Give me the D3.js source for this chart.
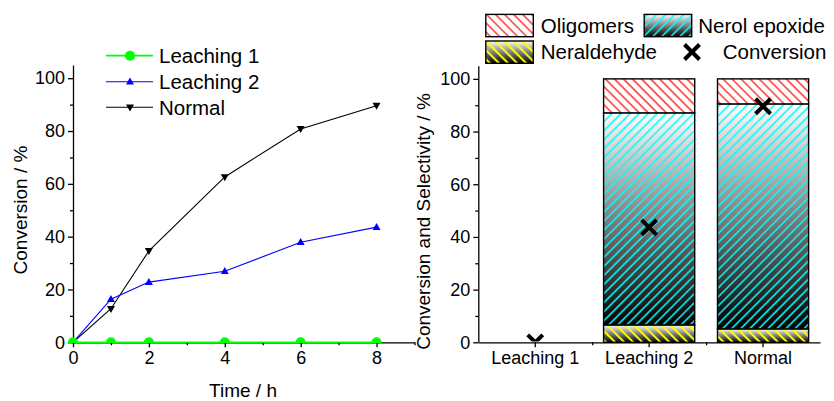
<!DOCTYPE html>
<html>
<head>
<meta charset="utf-8">
<script src="https://cdn.jsdelivr.net/npm/d3@7"></script>
<style>
	body { margin: 0; background: #fff; }
	svg { display: block; font-family: "Liberation Sans", Arial, sans-serif; }
	.tick text { font-size: 18px; fill: #000; font-family: "Liberation Sans", Arial, sans-serif; }
	.domain, .tick line { stroke: #000; stroke-width: 1.3; }
</style>
</head>
<body>
<svg id="chart" width="834" height="401"></svg>
<script>
// left panel: conversion vs time
var times = [0, 1, 2, 4, 6, 8];
var leaching1 = [0, 0, 0, 0, 0, 0];
var leaching2 = [0, 16.3, 22.8, 26.9, 37.9, 43.6];
var normal = [0, 12.7, 34.6, 62.6, 80.8, 89.6];
var timeTicks = [0, 2, 4, 6, 8];
var convTicks = [0, 20, 40, 60, 80, 100];

// right panel: selectivity bars
var categories = ['Leaching 1', 'Leaching 2', 'Normal'];
var neraldehyde = [0, 6.6, 5.1];
var nerolEpoxide = [0, 80.5, 85.4];
var oligomers = [0, 12.9, 9.5];
var conversion = [0, 43.6, 89.6];

var svg = d3.select('#chart');
var defs = svg.append('defs');

// gradient white -> black, top to bottom
var grad = defs.append('linearGradient').attr('id', 'wb')
	.attr('x1', 0).attr('y1', 0).attr('x2', 0).attr('y2', 1);
grad.append('stop').attr('offset', '0%').attr('stop-color', '#fff');
grad.append('stop').attr('offset', '100%').attr('stop-color', '#000');

// hatch patterns
function hatch(id, color, angle, width) {
	var p = defs.append('pattern').attr('id', id)
		.attr('patternUnits', 'userSpaceOnUse')
		.attr('width', 6.4).attr('height', 10)
		.attr('patternTransform', 'rotate(' + angle + ')');
	p.append('line').attr('x1', 1).attr('y1', 0).attr('x2', 1).attr('y2', 10)
		.attr('stroke', color).attr('stroke-width', width);
}
hatch('hRed', '#ff0000', -45, 1.2);
hatch('hCyan', '#00ffff', 45, 1.5);
hatch('hYellow', '#ffff00', -45, 2);

var segStyles = {
	oligomers: {bg: '#fff', hatch: 'url(#hRed)'},
	nerol: {bg: 'url(#wb)', hatch: 'url(#hCyan)'},
	neral: {bg: 'url(#wb)', hatch: 'url(#hYellow)'}
};

// ---------- left chart ----------
var xL = d3.scaleLinear().domain([0, 9]).range([73, 414.5]);
var yL = d3.scaleLinear().domain([0, 105]).range([342.3, 65]);

var gL = svg.append('g');

// minor ticks
gL.append('g').attr('transform', 'translate(0,' + yL(0) + ')')
	.call(d3.axisBottom(xL).tickValues([1, 3, 5, 7, 9]).tickSize(3).tickFormat(''))
	.call(function(g) { g.select('.domain').remove(); });
gL.append('g').attr('transform', 'translate(' + xL(0) + ',0)')
	.call(d3.axisLeft(yL).tickValues([10, 30, 50, 70, 90]).tickSize(3).tickFormat(''))
	.call(function(g) { g.select('.domain').remove(); });

gL.append('g').attr('transform', 'translate(0,' + yL(0) + ')')
	.call(d3.axisBottom(xL).tickValues(timeTicks).tickSize(5).tickPadding(4).tickSizeOuter(0));
gL.append('g').attr('transform', 'translate(' + xL(0) + ',0)')
	.call(d3.axisLeft(yL).tickValues(convTicks).tickSize(5).tickPadding(3).tickSizeOuter(0));

var series = [
	{name: 'Leaching 1', values: leaching1, color: '#00ff00', marker: 'circle'},
	{name: 'Leaching 2', values: leaching2, color: '#0000ff', marker: 'up'},
	{name: 'Normal', values: normal, color: '#000000', marker: 'down'}
];

function markerPath(type) {
	if (type === 'circle') return d3.symbol().type(d3.symbolCircle).size(80)();
	if (type === 'up') return 'M0,-4.2L4,2.8L-4,2.8Z';
	return 'M0,4.2L4,-2.8L-4,-2.8Z';
}

var line = d3.line()
	.x(function(d, i) { return xL(times[i]); })
	.y(function(d) { return yL(d); });

// clip markers at the x-axis
defs.append('clipPath').attr('id', 'clipL').append('rect')
	.attr('x', 0).attr('y', 0).attr('width', 834).attr('height', yL(0) + 0.6);

var plotL = gL.append('g').attr('clip-path', 'url(#clipL)');
// black first, then blue, green on top
series.slice().reverse().forEach(function(s) {
	plotL.append('path').datum(s.values)
		.attr('d', line)
		.attr('fill', 'none')
		.attr('stroke', s.color)
		.attr('stroke-width', s.marker === 'circle' ? 1.8 : 1.1);
	plotL.selectAll(null).data(s.values).join('path')
		.attr('transform', function(d, i) { return 'translate(' + xL(times[i]) + ',' + yL(d) + ')'; })
		.attr('d', markerPath(s.marker))
		.attr('fill', s.color);
});

// left legend
var legL = gL.append('g');
var legRows = [55.7, 81.7, 107.3];
series.forEach(function(s, i) {
	var y = legRows[i];
	legL.append('line').attr('x1', 106).attr('x2', 153).attr('y1', y).attr('y2', y)
		.attr('stroke', s.color).attr('stroke-width', s.marker === 'circle' ? 1.8 : 1.1);
	legL.append('path').attr('transform', 'translate(130,' + y + ')')
		.attr('d', markerPath(s.marker)).attr('fill', s.color);
	legL.append('text').attr('x', 159).attr('y', y + 7.3)
		.style('font-size', '20.5px').text(s.name);
});

gL.append('text').attr('x', 243).attr('y', 397).attr('text-anchor', 'middle')
	.style('font-size', '19px').text('Time / h');
gL.append('text').attr('transform', 'translate(26.5,210) rotate(-90)').attr('text-anchor', 'middle')
	.style('font-size', '19px').text('Conversion / %');

// ---------- right chart ----------
var xR = d3.scaleBand().domain(categories).range([478.3, 820]).paddingInner(0.2).paddingOuter(0.1);
var yR = d3.scaleLinear().domain([0, 105]).range([342.3, 65.7]);

var gR = svg.append('g');

// stacked segments
var stacks = categories.map(function(c, i) {
	var b0 = 0, b1 = neraldehyde[i], b2 = b1 + nerolEpoxide[i], b3 = b2 + oligomers[i];
	return [
		{cat: c, y0: b0, y1: b1, style: segStyles.neral},
		{cat: c, y0: b1, y1: b2, style: segStyles.nerol},
		{cat: c, y0: b2, y1: b3, style: segStyles.oligomers}
	];
});
var segs = [].concat.apply([], stacks).filter(function(d) { return d.y1 > d.y0; });

var barG = gR.append('g');
segs.forEach(function(d) {
	var x = xR(d.cat), w = xR.bandwidth(), y = yR(d.y1), h = yR(d.y0) - yR(d.y1);
	barG.append('rect').attr('x', x).attr('y', y).attr('width', w).attr('height', h).attr('fill', d.style.bg);
	barG.append('rect').attr('x', x).attr('y', y).attr('width', w).attr('height', h).attr('fill', d.style.hatch);
	barG.append('rect').attr('x', x).attr('y', y).attr('width', w).attr('height', h)
		.attr('fill', 'none').attr('stroke', '#000').attr('stroke-width', 1.4);
});

// minor ticks
gR.append('g').attr('transform', 'translate(0,' + yR(0) + ')')
	.call(d3.axisBottom(d3.scaleLinear().domain([0, 3]).range(xR.range()))
		.tickValues([1, 2]).tickSize(3).tickFormat(''))
	.call(function(g) { g.select('.domain').remove(); });
gR.append('g').attr('transform', 'translate(' + xR.range()[0] + ',0)')
	.call(d3.axisLeft(yR).tickValues([10, 30, 50, 70, 90]).tickSize(3).tickFormat(''))
	.call(function(g) { g.select('.domain').remove(); });

gR.append('g').attr('transform', 'translate(0,' + yR(0) + ')')
	.call(d3.axisBottom(xR).tickSize(5).tickPadding(4).tickSizeOuter(0));
gR.append('g').attr('transform', 'translate(' + xR.range()[0] + ',0)')
	.call(d3.axisLeft(yR).tickValues(convTicks).tickSize(5).tickPadding(3).tickSizeOuter(0));

// conversion markers, clipped at the axis
defs.append('clipPath').attr('id', 'clipR').append('rect')
	.attr('x', xR.range()[0]).attr('y', 0).attr('width', 400).attr('height', yR(0) - 0.7);
function xMark(sel, cx, cy) {
	sel.append('path')
		.attr('d', 'M' + (cx - 7.5) + ',' + (cy - 7.5) + 'L' + (cx + 7.5) + ',' + (cy + 7.5) +
			'M' + (cx - 7.5) + ',' + (cy + 7.5) + 'L' + (cx + 7.5) + ',' + (cy - 7.5))
		.attr('stroke', '#000').attr('stroke-width', 4).attr('fill', 'none');
}
var markG = gR.append('g').attr('clip-path', 'url(#clipR)');
categories.forEach(function(c, i) {
	xMark(markG, xR(c) + xR.bandwidth() / 2, yR(conversion[i]));
});

// right legend
var legR = gR.append('g');
function swatch(x, y, style) {
	legR.append('rect').attr('x', x).attr('y', y).attr('width', 47.5).attr('height', 22.3).attr('fill', style.bg);
	legR.append('rect').attr('x', x).attr('y', y).attr('width', 47.5).attr('height', 22.3).attr('fill', style.hatch);
	legR.append('rect').attr('x', x).attr('y', y).attr('width', 47.5).attr('height', 22.3)
		.attr('fill', 'none').attr('stroke', '#000').attr('stroke-width', 1.4);
}
swatch(485.8, 14.4, segStyles.oligomers);
legR.append('text').attr('x', 540.7).attr('y', 32.6).style('font-size', '20.5px').text('Oligomers');
swatch(644.2, 14.4, segStyles.nerol);
legR.append('text').attr('x', 698.3).attr('y', 32.6).style('font-size', '20.5px').text('Nerol epoxide');
swatch(485.8, 41, segStyles.neral);
legR.append('text').attr('x', 540.7).attr('y', 59.3).style('font-size', '20.5px').text('Neraldehyde');
xMark(legR, 692, 52);
legR.append('text').attr('x', 722.7).attr('y', 59.3).style('font-size', '20.5px').text('Conversion');

gR.append('text').attr('transform', 'translate(429.5,221.5) rotate(-90)').attr('text-anchor', 'middle')
	.style('font-size', '19px').text('Conversion and Selectivity / %');
</script>
</body>
</html>
